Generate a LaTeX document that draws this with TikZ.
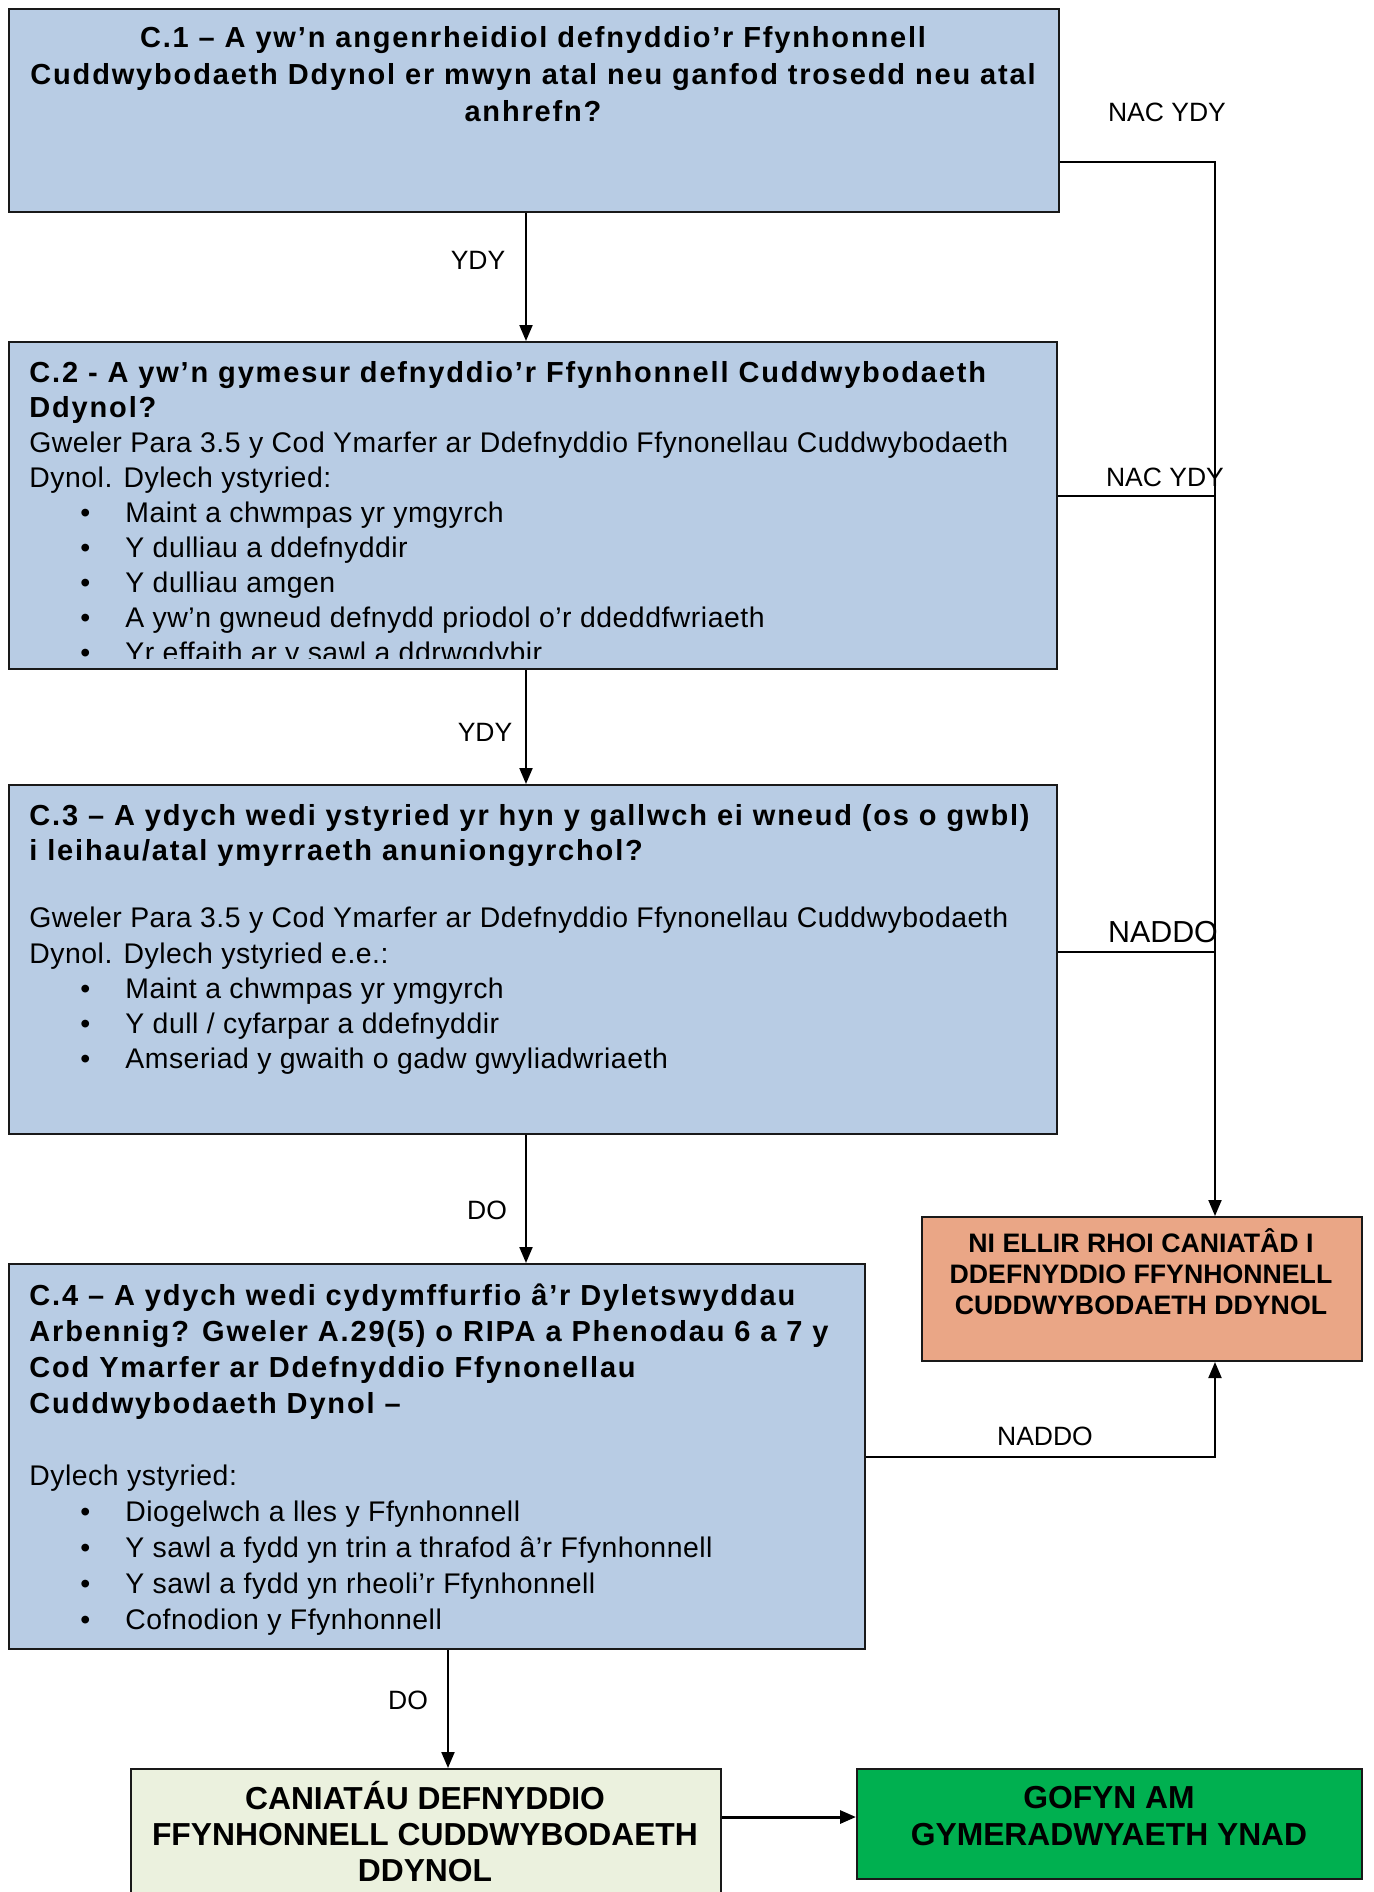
\documentclass[tikz,border=0pt]{standalone}
\usepackage{fontspec}
\setmainfont{Liberation Sans}
% question-box face: slightly tracked, bold more so
\newfontfamily\qfont{Liberation Sans}[LetterSpace=1.8, BoldFeatures={LetterSpace=6.3}]
\usetikzlibrary{arrows.meta}

\definecolor{qblue}{RGB}{184,204,228}
\definecolor{qsalmon}{RGB}{234,166,134}
\definecolor{qpale}{RGB}{235,241,222}
\definecolor{qgreen}{RGB}{0,176,80}
\definecolor{qedge}{RGB}{25,25,25}

% one bulleted line inside a question box
\newcommand\bul[1]{\hspace*{25.5pt}\makebox[22.5pt][l]{\textbullet}#1}
% bold heading line of a question box
\newcommand\hd[1]{{\fontsize{14.5pt}{14.5pt}\selectfont\bfseries #1}}
\newcommand\bodyfont[1]{\qfont\fontsize{14.2pt}{#1}\selectfont}

\begin{document}
\begin{tikzpicture}[x=0.5pt,y=-0.5pt,
  box/.style={draw=qedge, line width=1pt, inner sep=0pt, anchor=north west},
  qbox/.style={box, fill=qblue},
  txt/.style={inner sep=0pt, anchor=base west},
  ctxt/.style={inner sep=0pt, anchor=base},
  lbl/.style={inner sep=0pt, font=\fontsize{13.25pt}{15pt}\selectfont},
  conn/.style={draw=black, line width=1pt},
  arr/.style={conn, -{Triangle[length=8pt,width=6.5pt]}}
]
\useasboundingbox (0,0) rectangle (1373,1892);

% question boxes
\node[qbox, minimum width=525pt, minimum height=101.5pt] (c1) at (8,8) {};
\node[qbox, minimum width=524pt, minimum height=163.5pt] (c2) at (8,341) {};
\node[qbox, minimum width=524pt, minimum height=174.5pt] (c3) at (8,784) {};
\node[qbox, minimum width=428pt, minimum height=192.5pt] (c4) at (8,1263) {};

% outcome boxes
\node[box, fill=qsalmon, minimum width=220pt, minimum height=72pt] (ni) at (921,1216) {};
\node[box, fill=qpale, minimum width=295pt, minimum height=71pt] (can) at (130,1768) {};
\node[box, fill=qgreen, minimum width=252.5pt, minimum height=55pt] (gof) at (856,1768) {};

% box texts
\node[ctxt] (c1t) at (533,47) {\parbox[t]{525pt}{\centering\bodyfont{18.5pt}%
\hd{C.1 – A yw’n angenrheidiol defnyddio’r Ffynhonnell}\\
\hd{Cuddwybodaeth Ddynol er mwyn atal neu ganfod trosedd neu atal}\\
\hd{anhrefn?}}};

\begin{scope}
\clip (10,343) rectangle (1054,658);
\node[txt] (c2t) at (29,382) {\parbox[t]{515pt}{\raggedright\bodyfont{17.5pt}%
\hd{C.2 - A yw’n gymesur defnyddio’r Ffynhonnell Cuddwybodaeth}\\
\hd{Ddynol?}\\
Gweler Para 3.5 y Cod Ymarfer ar Ddefnyddio Ffynonellau Cuddwybodaeth\\
Dynol. Dylech ystyried:\\
\bul{Maint a chwmpas yr ymgyrch}\\
\bul{Y dulliau a ddefnyddir}\\
\bul{Y dulliau amgen}\\
\bul{A yw’n gwneud defnydd priodol o’r ddeddfwriaeth}\\
\bul{Yr effaith ar y sawl a ddrwgdybir}}};
\end{scope}

\node[txt] (c3t) at (29,825) {\parbox[t]{520pt}{\raggedright\bodyfont{17.6pt}%
\hd{C.3 – A ydych wedi ystyried yr hyn y gallwch ei wneud (os o gwbl)}\\
\hd{i leihau/atal ymyrraeth anuniongyrchol?}\\[16.2pt]
Gweler Para 3.5 y Cod Ymarfer ar Ddefnyddio Ffynonellau Cuddwybodaeth\\
Dynol. Dylech ystyried e.e.:\\
\bul{Maint a chwmpas yr ymgyrch}\\
\bul{Y dull / cyfarpar a ddefnyddir}\\
\bul{Amseriad y gwaith o gadw gwyliadwriaeth}}};

\node[txt] (c4t) at (29,1305) {\parbox[t]{420pt}{\raggedright\bodyfont{18pt}%
\hd{C.4 – A ydych wedi cydymffurfio â’r Dyletswyddau}\\
\hd{Arbennig? Gweler A.29(5) o RIPA a Phenodau 6 a 7 y}\\
\hd{Cod Ymarfer ar Ddefnyddio Ffynonellau}\\
\hd{Cuddwybodaeth Dynol –}\\[18pt]
Dylech ystyried:\\
\bul{Diogelwch a lles y Ffynhonnell}\\
\bul{Y sawl a fydd yn trin a thrafod â’r Ffynhonnell}\\
\bul{Y sawl a fydd yn rheoli’r Ffynhonnell}\\
\bul{Cofnodion y Ffynhonnell}}};

\node[ctxt] (nit) at (1141,1252) {\parbox[t]{218pt}{\centering\bfseries\fontsize{13.35pt}{15.5pt}\selectfont
NI ELLIR RHOI CANIATÂD I\\
DDEFNYDDIO FFYNHONNELL\\
CUDDWYBODAETH DDYNOL}};

\node[ctxt] (cant) at (425,1809) {\parbox[t]{290pt}{\centering\bfseries\fontsize{15.9pt}{18.2pt}\selectfont
CANIATÁU DEFNYDDIO\\
FFYNHONNELL CUDDWYBODAETH\\
DDYNOL}};

\node[ctxt] (goft) at (1109,1808) {\parbox[t]{250pt}{\centering\bfseries\fontsize{15.9pt}{18.6pt}\selectfont
GOFYN AM\\
GYMERADWYAETH YNAD}};

% connector geometry
\coordinate (ax) at (526,0);
\coordinate (bx) at (448,0);
\coordinate (j1) at (1215,162);
\coordinate (j2) at (1215,496);
\coordinate (j3) at (1215,952);
\coordinate (j4) at (1215,1457);
\coordinate (cy) at (0,1817);

% "yes" path down the questions
\draw[arr] (c1.south -| ax) -- (c2.north -| ax);
\draw[arr] (c2.south -| ax) -- (c3.north -| ax);
\draw[arr] (c3.south -| ax) -- (c4.north -| ax);
\draw[arr] (c4.south -| bx) -- (can.north -| bx);
\draw[arr, line width=1.5pt] (can.east |- cy) -- (gof.west |- cy);

% "no" paths to the refusal box
\draw[arr] (c1.east |- j1) -- (j1) -- (ni.north -| j1);
\draw[conn] (c2.east |- j2) -- (j2);
\draw[conn] (c3.east |- j3) -- (j3);
\draw[arr] (c4.east |- j4) -- (j4) -- (ni.south -| j4);

% connector labels
\node[lbl] (l1) at (1167,112) {NAC YDY};
\node[lbl] (l2) at (478,260) {YDY};
\node[lbl] (l3) at (1165,477) {NAC YDY};
\node[lbl] (l4) at (485,732) {YDY};
\node[lbl, font=\fontsize{15.2pt}{17pt}\selectfont] (l5) at (1163,932) {NADDO};
\node[lbl] (l6) at (487,1210) {DO};
\node[lbl] (l7) at (1045,1436) {NADDO};
\node[lbl] (l8) at (408,1700) {DO};
\end{tikzpicture}
\end{document}
